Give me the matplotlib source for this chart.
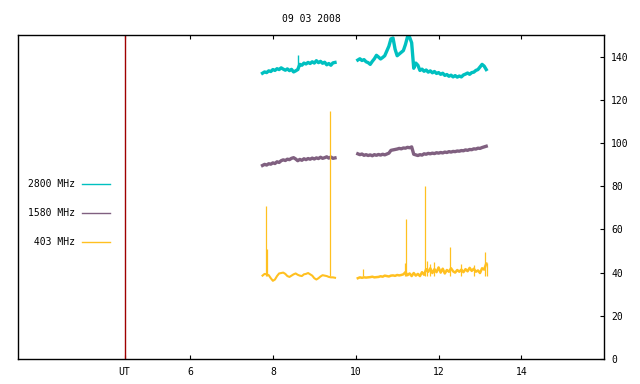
import numpy as np
import matplotlib.pyplot as plt

plt.rcParams['font.family'] = 'DejaVu Sans Mono'
plt.rcParams['font.size'] = 7

# time grid of the two observing blocks (UT hours)
t_a = np.round(np.arange(7.75, 9.51, 0.05), 2)
t_b = np.round(np.arange(10.05, 13.16, 0.05), 2)

# 2800 MHz
f2800_a = [132.3, 132.9, 132.6, 133.4, 133.1,
           134.0, 133.6, 134.4, 134.0, 134.8, 134.2, 133.7, 134.3, 133.5, 134.1,
           132.9, 133.4, 134.0, 136.4, 136.0, 137.0, 136.6, 137.3, 136.8, 137.6,
           137.0, 138.1, 137.2, 137.8, 136.9, 137.4, 136.2, 136.8, 136.0, 137.1,
           137.3]
f2800_b = [138.4, 139.0, 138.2, 138.6, 137.6, 137.2, 136.4, 137.8, 139.0, 140.6,
           139.8, 138.9, 139.6, 140.4, 142.6, 144.8, 148.2, 148.6, 143.4, 140.4,
           141.2, 142.0, 142.8, 145.6, 149.2, 149.0, 146.4, 134.6, 137.0, 136.0,
           133.6, 134.2, 133.2, 133.8, 132.8, 133.4, 132.5, 133.1, 132.2, 132.6,
           131.8, 132.3, 131.3, 131.7, 130.9, 131.4, 130.6, 131.2, 130.5, 131.0,
           130.6, 131.5, 131.9, 132.4, 131.8, 132.6, 132.8, 133.6, 134.0, 135.2,
           136.4, 135.6, 134.0]

# 1580 MHz
f1580_a = [89.6, 90.1, 89.8, 90.4, 90.2,
           90.8, 90.5, 91.3, 91.0, 91.8, 92.2, 91.9, 92.5, 92.3, 92.9,
           93.2, 92.6, 91.8, 92.4, 92.0, 92.7, 92.3, 92.8, 92.5, 93.0,
           92.6, 93.1, 92.8, 93.4, 92.9, 93.2, 93.6, 93.0, 93.5, 92.9,
           93.1]
f1580_b = [95.0, 94.6, 94.9, 94.3, 94.6, 94.2, 94.5, 94.1, 94.6, 94.3,
           94.7, 94.4, 94.8, 94.5, 94.9, 95.3, 96.6, 96.8, 97.0, 97.2,
           97.5, 97.3, 97.7, 97.6, 98.0, 97.8, 98.2, 94.8, 94.5, 94.2,
           94.6, 94.4, 95.0, 94.8, 95.2, 95.0, 95.3, 95.1, 95.5, 95.3,
           95.6, 95.4, 95.8, 95.6, 96.0, 95.8, 96.1, 96.0, 96.3, 96.2,
           96.5, 96.4, 96.8, 96.6, 97.0, 96.9, 97.3, 97.2, 97.6, 97.5,
           97.9, 98.2, 98.5]

# 403 MHz
f403_a = [38.6, 39.4, 39.2, 38.8, 37.4,
          36.2, 36.8, 38.4, 39.6, 39.8, 40.0, 39.4, 38.4, 38.0, 38.6,
          39.2, 39.6, 39.0, 38.6, 38.4, 39.2, 39.4, 39.8, 39.2, 38.6,
          37.4, 36.8, 37.4, 38.2, 38.8, 38.6, 38.4, 38.0, 37.8, 37.8,
          37.6]
f403_b = [37.4, 37.8, 37.6, 37.8, 37.7, 37.8, 37.9, 38.1, 37.8, 37.9,
          38.0, 38.3, 38.1, 38.6, 38.4, 38.2, 38.6, 38.7, 38.5, 38.9,
          38.7, 38.9, 39.2, 40.2, 38.8, 39.6, 38.4, 39.8, 38.6, 39.4,
          38.4, 40.2, 39.0, 41.6, 40.4, 42.0, 39.8, 41.6, 40.2, 42.4,
          40.0, 41.8, 39.6, 41.2, 40.4, 42.0, 40.6, 40.0, 41.2, 40.4,
          41.4, 40.2, 41.6, 40.6, 42.2, 40.8, 41.8, 40.4, 41.0, 39.8,
          42.0, 41.4, 44.2]

# short bursts (time, peak)
spk2800_t = [8.60]
spk2800_v = [140.8]
spk403_t = [7.83, 7.85, 9.38, 10.18, 11.20, 11.22, 11.67, 11.72, 11.80,
            11.88, 12.28, 12.55, 12.85, 13.12, 13.16]
spk403_v = [71.0, 50.8, 115.0, 41.6, 44.5, 64.9, 80.2, 45.5, 44.2,
            44.8, 52.0, 43.8, 43.6, 49.7, 44.6]

ut_pos = 4.42
xticks = [6, 8, 10, 12, 14]
yticks = [0, 20, 40, 60, 80, 100, 120, 140]

c2800 = '#00c0c0'
c1580 = '#806080'
c403 = '#ffc020'

fig = plt.figure(figsize=(6.4, 3.84), dpi=100)
ax = fig.add_axes([18.3 / 640, 1 - 359 / 384, 586 / 640, 324 / 384])

ax.plot(t_a, f2800_a, color=c2800, lw=2.4, label='2800 MHz')
ax.plot(t_b, f2800_b, color=c2800, lw=2.4)
ax.vlines(spk2800_t, 134.0, spk2800_v, color=c2800, lw=1.0)

ax.plot(t_a, f1580_a, color=c1580, lw=2.4, label='1580 MHz')
ax.plot(t_b, f1580_b, color=c1580, lw=2.4)

ax.plot(t_a, f403_a, color=c403, lw=1.5, label=' 403 MHz')
ax.plot(t_b, f403_b, color=c403, lw=1.8)
ax.vlines(spk403_t, 38.5, spk403_v, color=c403, lw=0.9)

ax.axvline(ut_pos, color='#a00000', lw=1.0)

ax.set_xlim(1.855, 16.0)
ax.set_ylim(0, 150)
ax.set_xticks([ut_pos] + xticks)
ax.set_xticklabels(['UT'] + [str(v) for v in xticks])
ax.set_yticks(yticks)
ax.yaxis.tick_right()
ax.tick_params(axis='x', direction='in', top=True, length=3, width=0.8, pad=6)
ax.tick_params(axis='y', direction='in', left=False, right=True, labelleft=False,
               labelright=True, length=3, width=0.8, pad=5)
for s in ax.spines.values():
    s.set_linewidth(1.0)

ax.set_title('09 03 2008', fontsize=7, pad=9)

leg = ax.legend(loc='upper left', bbox_to_anchor=(0.0166, 0.555), borderaxespad=0,
                borderpad=0, handlelength=2.9, handletextpad=0.7, labelspacing=1.95,
                markerfirst=False, frameon=False)
for line in leg.get_lines():
    line.set_linewidth(1.0)

fig.savefig('out.png', dpi=100)
